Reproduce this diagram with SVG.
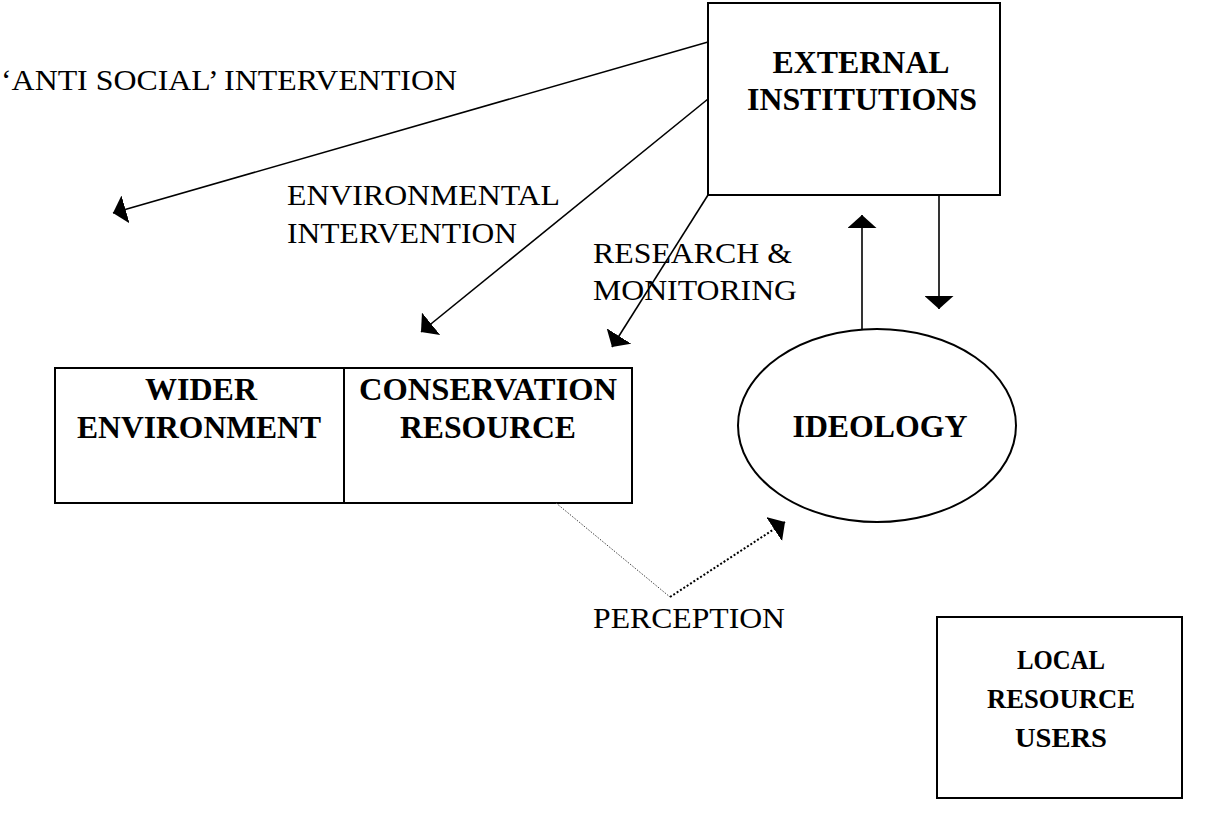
<svg xmlns="http://www.w3.org/2000/svg" width="1209" height="830" viewBox="0 0 1209 830">
<defs>
<style>
.box{fill:#fff;stroke:#000;stroke-width:2}
.ln{fill:none;stroke:#000;stroke-width:1.6}
.bt{font-family:"Liberation Serif",serif;font-weight:bold;font-size:32px;fill:#000;text-anchor:middle}
.lt{font-family:"Liberation Serif",serif;font-weight:bold;font-size:28px;fill:#000;text-anchor:middle}
.rt{font-family:"Liberation Serif",serif;font-size:30px;fill:#000}
</style>
<marker id="ah" viewBox="0 0 13 29" refX="13" refY="14.5" markerWidth="13" markerHeight="29" markerUnits="userSpaceOnUse" orient="auto">
<path d="M0,0 L13,14.5 L0,29 Z" fill="#000"/>
</marker>
</defs>
<rect width="1209" height="830" fill="#fff"/>
<g id="external-institutions">
<rect class="box" x="708" y="3" width="292" height="192"/>
<text class="bt" x="861" y="73" textLength="177" lengthAdjust="spacingAndGlyphs">EXTERNAL</text>
<text class="bt" x="862" y="110" textLength="230" lengthAdjust="spacingAndGlyphs">INSTITUTIONS</text>
</g>
<g id="environment-box">
<rect class="box" x="55" y="368" width="577" height="135"/>
<line class="box" x1="344" y1="368" x2="344" y2="503"/>
</g>
<g id="wider-environment">
<text class="bt" x="201" y="400" textLength="112" lengthAdjust="spacingAndGlyphs">WIDER</text>
<text class="bt" x="199" y="438" textLength="244" lengthAdjust="spacingAndGlyphs">ENVIRONMENT</text>
</g>
<g id="conservation-resource">
<text class="bt" x="488" y="400" textLength="258" lengthAdjust="spacingAndGlyphs">CONSERVATION</text>
<text class="bt" x="488" y="438" textLength="176" lengthAdjust="spacingAndGlyphs">RESOURCE</text>
</g>
<g id="ideology">
<ellipse class="box" cx="877" cy="425.5" rx="139" ry="96.5"/>
<text class="bt" x="880" y="437" textLength="175" lengthAdjust="spacingAndGlyphs">IDEOLOGY</text>
</g>
<g id="local-resource-users">
<rect class="box" x="937" y="617" width="245" height="181"/>
<text class="lt" x="1061" y="669" textLength="88" lengthAdjust="spacingAndGlyphs">LOCAL</text>
<text class="lt" x="1061" y="708" textLength="148" lengthAdjust="spacingAndGlyphs">RESOURCE</text>
<text class="lt" x="1061" y="747" textLength="92" lengthAdjust="spacingAndGlyphs">USERS</text>
</g>
<g id="connectors">
<line class="ln" x1="708" y1="42" x2="113" y2="213" marker-end="url(#ah)"/>
<line class="ln" x1="708" y1="99" x2="421" y2="332" marker-end="url(#ah)"/>
<line class="ln" x1="708" y1="195" x2="612" y2="347" marker-end="url(#ah)"/>
<line class="ln" x1="862" y1="330" x2="862" y2="215" marker-end="url(#ah)"/>
<line class="ln" x1="939" y1="195" x2="939" y2="309" marker-end="url(#ah)"/>
<line fill="none" stroke="#444" stroke-width="1" stroke-dasharray="1.5,1.5" x1="556" y1="503" x2="670" y2="597"/>
<line fill="none" stroke="#000" stroke-width="2" stroke-dasharray="2,2" x1="670" y1="597" x2="785" y2="522" marker-end="url(#ah)"/>
</g>
<g id="labels">
<text class="rt" x="1" y="90" textLength="456" lengthAdjust="spacingAndGlyphs">‘ANTI SOCIAL’ INTERVENTION</text>
<text class="rt" x="287" y="205" textLength="273" lengthAdjust="spacingAndGlyphs">ENVIRONMENTAL</text>
<text class="rt" x="287" y="243" textLength="230" lengthAdjust="spacingAndGlyphs">INTERVENTION</text>
<text class="rt" x="593" y="263" textLength="199" lengthAdjust="spacingAndGlyphs">RESEARCH &amp;</text>
<text class="rt" x="593" y="300" textLength="204" lengthAdjust="spacingAndGlyphs">MONITORING</text>
<text class="rt" x="593" y="628" textLength="192" lengthAdjust="spacingAndGlyphs">PERCEPTION</text>
</g>
</svg>
